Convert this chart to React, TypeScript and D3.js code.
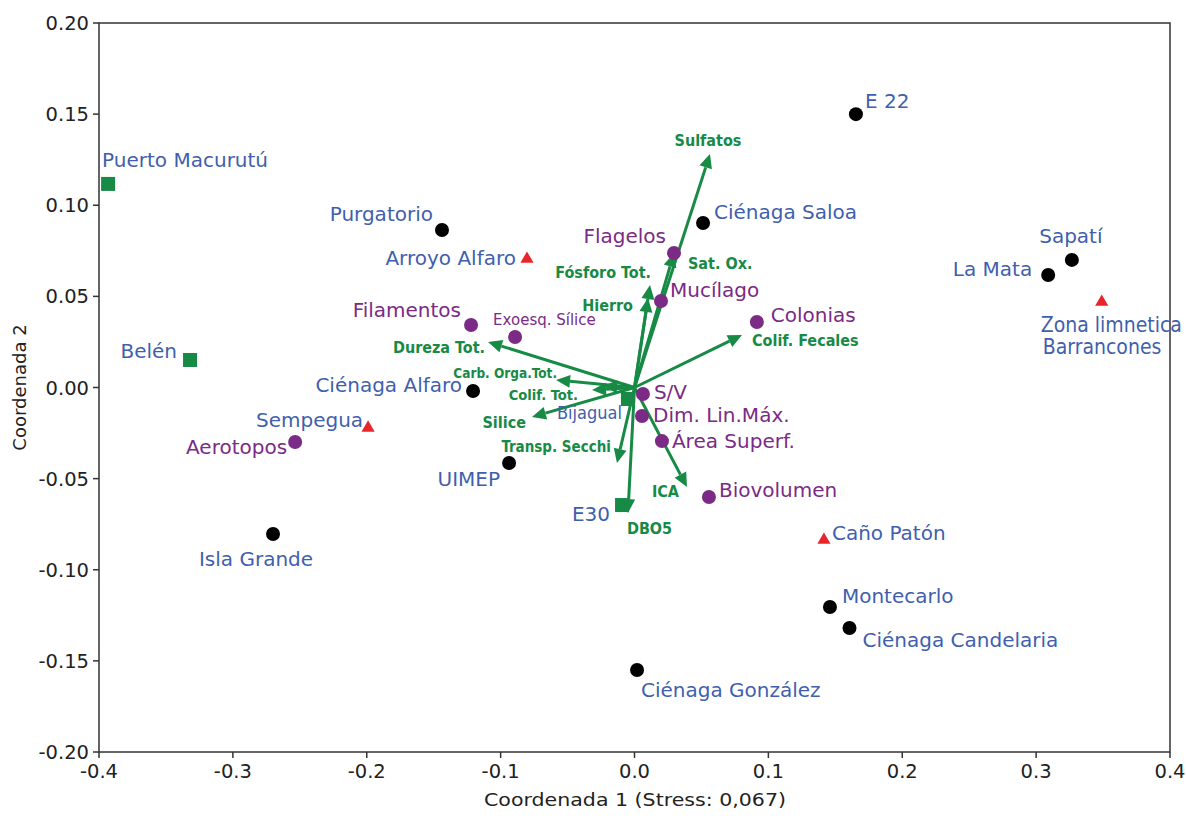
import React from 'react';
import * as d3 from 'd3';

// sampling sites (black circles)
const sites = [
  { name: 'E 22', x: 0.1654, y: 0.150 },
  { name: 'Purgatorio', x: -0.1438, y: 0.0864 },
  { name: 'Ciénaga Saloa', x: 0.0512, y: 0.0903 },
  { name: 'Sapatí', x: 0.3267, y: 0.070 },
  { name: 'La Mata', x: 0.309, y: 0.0617 },
  { name: 'Ciénaga Alfaro', x: -0.1206, y: -0.0019 },
  { name: 'UIMEP', x: -0.0937, y: -0.0414 },
  { name: 'Isla Grande', x: -0.270, y: -0.0804 },
  { name: 'Montecarlo', x: 0.146, y: -0.1204 },
  { name: 'Ciénaga Candelaria', x: 0.1606, y: -0.132 },
  { name: 'Ciénaga González', x: 0.0019, y: -0.155 },
];

// green squares
const squareSites = [
  { name: 'Puerto Macurutú', x: -0.3932, y: 0.1117 },
  { name: 'Belén', x: -0.332, y: 0.0151 },
  { name: 'Bijagual', x: -0.0049, y: -0.0063 },
  { name: 'E30', x: -0.0093, y: -0.0645 },
];

// red triangles
const triangleSites = [
  { name: 'Arroyo Alfaro', x: -0.0803, y: 0.0705 },
  { name: 'Sempegua', x: -0.199, y: -0.0222 },
  { name: 'Caño Patón', x: 0.1415, y: -0.0837 },
  { name: 'Zona limnetica|Barrancones', x: 0.349, y: 0.0469 },
];

// phytoplankton traits (purple)
const traits = [
  { name: 'Flagelos', x: 0.0295, y: 0.0738 },
  { name: 'Mucílago', x: 0.0198, y: 0.0475 },
  { name: 'Colonias', x: 0.0914, y: 0.0359 },
  { name: 'Filamentos', x: -0.1221, y: 0.0343 },
  { name: 'Exoesq. Sílice', x: -0.0892, y: 0.0277 },
  { name: 'S/V', x: 0.0063, y: -0.0036 },
  { name: 'Dim. Lin.Máx.', x: 0.0056, y: -0.0156 },
  { name: 'Área Superf.', x: 0.0205, y: -0.0294 },
  { name: 'Biovolumen', x: 0.0556, y: -0.0601 },
  { name: 'Aerotopos', x: -0.2535, y: -0.0299 },
];

// environmental vectors
const vectors = [
  { name: 'Sulfatos', x: 0.0564, y: 0.1281 },
  { name: 'Sat. Ox.', x: 0.0295, y: 0.0738 },
  { name: 'Fósforo Tot.', x: 0.0116, y: 0.0562 },
  { name: 'Hierro', x: 0.0101, y: 0.0491 },
  { name: 'Colif. Fecales', x: 0.0803, y: 0.0288 },
  { name: 'Dureza Tot.', x: -0.1094, y: 0.025 },
  { name: 'Carb. Orga.Tot.', x: -0.0586, y: 0.0041 },
  { name: 'Colif. Tot.', x: -0.0317, y: -0.0014 },
  { name: '', x: -0.0235, y: 0.0008 },
  { name: 'Silice', x: -0.0766, y: -0.0162 },
  { name: 'Transp. Secchi', x: -0.0131, y: -0.0414 },
  { name: 'DBO5', x: -0.0049, y: -0.0689 },
  { name: 'ICA', x: 0.0392, y: -0.0546 },
];

const xTicks = [-0.4, -0.3, -0.2, -0.1, 0, 0.1, 0.2, 0.3, 0.4];
const yTicks = [-0.2, -0.15, -0.1, -0.05, 0, 0.05, 0.1, 0.15, 0.2];

// label placement: [dx, dy, anchor]
const place: Record<string, [number, number, string]> = {
  'E 22': [9, -6, 'start'],
  'Purgatorio': [-9, -9, 'end'],
  'Ciénaga Saloa': [11, -4, 'start'],
  'Sapatí': [-1, -17, 'middle'],
  'La Mata': [-16, 1, 'end'],
  'Ciénaga Alfaro': [-11, 1, 'end'],
  'UIMEP': [-9, 23, 'end'],
  'Isla Grande': [-17, 32, 'middle'],
  'Montecarlo': [12, -4, 'start'],
  'Ciénaga Candelaria': [13, 19, 'start'],
  'Ciénaga González': [4, 27, 'start'],
  'Puerto Macurutú': [-6, -17, 'start'],
  'Belén': [-13, -2, 'end'],
  'Bijagual': [-6, 20, 'end'],
  'E30': [-12, 16, 'end'],
  'Arroyo Alfaro': [-11, 6, 'end'],
  'Sempegua': [-5, -1, 'end'],
  'Caño Patón': [8, 0, 'start'],
  'Zona limnetica|Barrancones': [-61, 30, 'start'],
  'Flagelos': [-8, -10, 'end'],
  'Mucílago': [9, -4, 'start'],
  'Colonias': [14, 0, 'start'],
  'Filamentos': [-10, -8, 'end'],
  'Exoesq. Sílice': [-22, -12, 'start'],
  'S/V': [11, 5, 'start'],
  'Dim. Lin.Máx.': [11, 6, 'start'],
  'Área Superf.': [10, 7, 'start'],
  'Biovolumen': [10, 0, 'start'],
  'Aerotopos': [-8, 12, 'end'],
  'Sulfatos': [-2, -8, 'middle'],
  'Sat. Ox.': [14, 16, 'start'],
  'Fósforo Tot.': [1, -7, 'end'],
  'Hierro': [-15, 13, 'end'],
  'Colif. Fecales': [10, 11, 'start'],
  'Dureza Tot.': [-3, 11, 'end'],
  'Carb. Orga.Tot.': [1, -2, 'end'],
  'Colif. Tot.': [-14, 10, 'end'],
  'Silice': [-6, 11, 'end'],
  'Transp. Secchi': [-6, -11, 'end'],
  'DBO5': [-1, 21, 'start'],
  'ICA': [-8, 10, 'end'],
};

const labelSize: Record<string, number> = {
  'Exoesq. Sílice': 15,
  'Bijagual': 18,
  'Zona limnetica|Barrancones': 21,
  'Carb. Orga.Tot.': 13.5,
  'Colif. Tot.': 14.6,
  'Transp. Secchi': 15,
};

const W = 1186;
const H = 816;
const margin = { top: 23, right: 16, bottom: 64, left: 99 };

const BLUE = '#3f5fae';
const PURPLE = '#7b2a85';
const GREEN = '#178a46';
const RED = '#e8262a';
const VERDANA = 'Verdana, "DejaVu Sans", sans-serif';
const NARROW = '"Liberation Sans Narrow", "Arial Narrow", "DejaVu Sans Condensed", sans-serif';

export default function App() {
  const x = d3.scaleLinear().domain([-0.4, 0.4]).range([margin.left, W - margin.right]);
  const y = d3.scaleLinear().domain([-0.2, 0.2]).range([H - margin.bottom, margin.top]);
  const x0 = x(0);
  const y0 = y(0);

  const label = (name: string, px: number, py: number, color: string, font: string, size: number, weight = 'normal') => {
    const p = place[name] || [8, 0, 'start'];
    const sz = labelSize[name] || size;
    const lines = name.split('|');
    return (
      <text key={'t' + name} x={px + p[0]} y={py + p[1]} textAnchor={p[2] as any} fill={color}
        fontFamily={font} fontSize={sz} fontWeight={weight}>
        {lines.map((l, i) => (
          <tspan key={i} x={px + p[0] + (i === 0 ? 0 : 2)} dy={i === 0 ? 0 : sz * 1.05}>{l}</tspan>
        ))}
      </text>
    );
  };

  const tri = d3.symbol().type(d3.symbolTriangle).size(75)();

  return (
    <svg width={W} height={H} style={{ position: 'absolute', left: 0, top: 0, background: '#fff' }}>
      <rect x={x(-0.4)} y={y(0.2)} width={x(0.4) - x(-0.4)} height={y(-0.2) - y(0.2)}
        fill="none" stroke="#333" strokeWidth={1.5} />
      {xTicks.map(t => (
        <g key={'x' + t}>
          <line x1={x(t)} x2={x(t)} y1={y(-0.2)} y2={y(-0.2) + 6} stroke="#333" strokeWidth={1.5} />
          <text x={x(t)} y={y(-0.2) + 26} textAnchor="middle" fontFamily={VERDANA} fontSize={19.5} fill="#222">
            {d3.format('.1f')(t).replace('−', '-')}
          </text>
        </g>
      ))}
      {yTicks.map(t => (
        <g key={'y' + t}>
          <line x1={x(-0.4) - 6} x2={x(-0.4)} y1={y(t)} y2={y(t)} stroke="#333" strokeWidth={1.5} />
          <text x={x(-0.4) - 10} y={y(t) + 7} textAnchor="end" fontFamily={VERDANA} fontSize={19.5} fill="#222">
            {d3.format('.2f')(t).replace('−', '-')}
          </text>
        </g>
      ))}
      <text x={484} y={H - 10} fontFamily={VERDANA} fontSize={18} fill="#222"
        textLength={302} lengthAdjust="spacingAndGlyphs">
        Coordenada 1 (Stress: 0,067)
      </text>
      <text transform={`translate(26,${(y(0.2) + y(-0.2)) / 2}) rotate(-90)`} textAnchor="middle"
        fontFamily={VERDANA} fontSize={18} fill="#222">
        Coordenada 2
      </text>

      {vectors.map(v => {
        const tx = x(v.x);
        const ty = y(v.y);
        const ang = Math.atan2(ty - y0, tx - x0);
        const len = 14;
        const hw = 6.5;
        const bx = tx - len * Math.cos(ang);
        const by = ty - len * Math.sin(ang);
        const px = -Math.sin(ang) * hw;
        const py = Math.cos(ang) * hw;
        return (
          <g key={'v' + v.name + v.x}>
            <line x1={x0} y1={y0} x2={bx} y2={by} stroke={GREEN} strokeWidth={3} />
            <path d={`M${tx},${ty}L${bx + px},${by + py}L${bx - px},${by - py}Z`} fill={GREEN} />
          </g>
        );
      })}

      {sites.map(s => (
        <circle key={s.name} cx={x(s.x)} cy={y(s.y)} r={7} fill="#000" />
      ))}
      {squareSites.map(s => (
        <rect key={s.name} x={x(s.x) - 7} y={y(s.y) - 7} width={14} height={14} fill={GREEN} />
      ))}
      {triangleSites.map(s => (
        <path key={s.name} d={tri || ''} transform={`translate(${x(s.x)},${y(s.y)})`} fill={RED} />
      ))}
      {traits.map(s => (
        <circle key={s.name} cx={x(s.x)} cy={y(s.y)} r={7} fill={PURPLE} />
      ))}

      {sites.map(s => label(s.name, x(s.x), y(s.y), BLUE, VERDANA, 20))}
      {squareSites.map(s => label(s.name, x(s.x), y(s.y), BLUE, s.name === 'Bijagual' ? NARROW : VERDANA, 20))}
      {triangleSites.map(s => label(s.name, x(s.x), y(s.y), BLUE, s.name.includes('|') ? NARROW : VERDANA, 20))}
      {traits.map(s => label(s.name, x(s.x), y(s.y), PURPLE, VERDANA, 20))}
      {vectors.filter(v => v.name).map(v => label(v.name, x(v.x), y(v.y), GREEN, NARROW, 16, 'bold'))}
    </svg>
  );
}
